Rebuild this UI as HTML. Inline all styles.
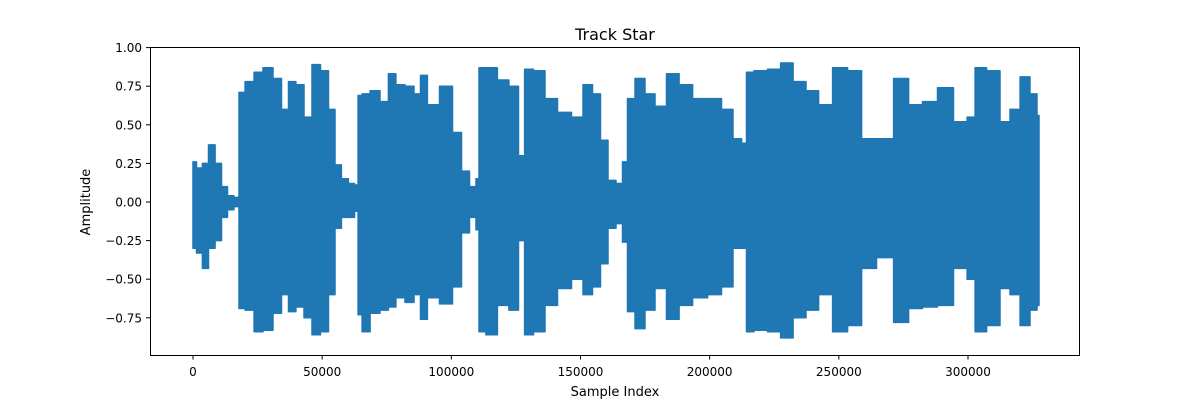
<!DOCTYPE html>
<html><head><meta charset="utf-8"><style>
body{margin:0;background:#fff;}
svg text{font-family:"DejaVu Sans","Liberation Sans",sans-serif;fill:#000;}
</style></head><body>
<svg id="chart" width="1200" height="400" viewBox="0 0 1200 400" xmlns="http://www.w3.org/2000/svg">
<rect width="1200" height="400" fill="#fff"/>
<text x="615" y="40" font-size="16" text-anchor="middle">Track Star</text>
<g id="plot"></g>
<rect x="150.5" y="47.5" width="929" height="308" fill="none" stroke="#000" stroke-width="1"/>
<g id="xticks"></g><g id="yticks"></g>
<text x="615" y="396" font-size="13" text-anchor="middle">Sample Index</text>
<text x="90" y="202" font-size="13" text-anchor="middle" transform="rotate(-90 90 202)">Amplitude</text>
</svg>
<script>
const sampleIdx=[0,2700,4600,7400,9700,12400,14300,17400,18200,22100,25200,29000,32900,35600,38300,41400,44500,47600,51100,53800,56100,58800,61500,63500,64300,66600,70500,74300,77000,80100,84000,87100,89000,92500,98300,102600,105300,108800,110300,111100,115700,120000,124600,127400,129300,134300,138200,144000,149000,152900,156400,159100,162200,165300,167200,169200,173000,176900,180800,185800,190500,196300,202100,207100,211000,213700,214800,219500,225300,229600,235000,239600,244700,250500,256300,261300,267900,274500,279500,285300,291100,297700,301600,303900,310500,314300,318200,322100,325900,327500];
const upperEnv=[0.26,0.22,0.25,0.37,0.25,0.10,0.04,0.03,0.71,0.78,0.84,0.87,0.80,0.60,0.78,0.76,0.55,0.89,0.85,0.60,0.24,0.15,0.12,0.11,0.69,0.70,0.72,0.65,0.83,0.76,0.75,0.70,0.82,0.63,0.75,0.45,0.20,0.10,0.15,0.87,0.87,0.79,0.75,0.30,0.86,0.85,0.67,0.58,0.55,0.76,0.70,0.40,0.14,0.12,0.26,0.67,0.80,0.70,0.62,0.83,0.76,0.67,0.67,0.60,0.41,0.38,0.84,0.85,0.86,0.90,0.78,0.72,0.63,0.87,0.85,0.41,0.41,0.80,0.63,0.65,0.74,0.52,0.55,0.87,0.85,0.52,0.60,0.81,0.70,0.56];
const lowerEnv=[-0.30,-0.33,-0.43,-0.30,-0.25,-0.10,-0.05,-0.03,-0.69,-0.70,-0.84,-0.83,-0.72,-0.60,-0.71,-0.68,-0.75,-0.86,-0.84,-0.60,-0.17,-0.10,-0.10,-0.06,-0.73,-0.84,-0.72,-0.70,-0.68,-0.62,-0.65,-0.60,-0.76,-0.62,-0.66,-0.55,-0.20,-0.10,-0.18,-0.84,-0.86,-0.67,-0.70,-0.25,-0.86,-0.84,-0.67,-0.56,-0.50,-0.60,-0.55,-0.40,-0.17,-0.14,-0.26,-0.71,-0.82,-0.70,-0.56,-0.76,-0.67,-0.62,-0.60,-0.55,-0.30,-0.30,-0.84,-0.83,-0.84,-0.88,-0.75,-0.70,-0.60,-0.84,-0.80,-0.43,-0.36,-0.78,-0.69,-0.68,-0.67,-0.43,-0.50,-0.84,-0.80,-0.56,-0.60,-0.80,-0.70,-0.67];
const xTickVals=[0,50000,100000,150000,200000,250000,300000];
const yTickVals=[-0.75,-0.5,-0.25,0,0.25,0.5,0.75,1.0];
const yTickLabels=["−0.75","−0.50","−0.25","0.00","0.25","0.50","0.75","1.00"];

const NS="http://www.w3.org/2000/svg";
function xPx(s){return 193+s*775/300000;}
function yPx(v){return 202-v*154.4;}

const plot=document.getElementById('plot');
const n=sampleIdx.length;
function edges(i){
  const l=i===0?xPx(sampleIdx[0]):(xPx(sampleIdx[i-1])+xPx(sampleIdx[i]))/2;
  const r=i===n-1?xPx(sampleIdx[n-1]):(xPx(sampleIdx[i])+xPx(sampleIdx[i+1]))/2;
  return [l,r];
}
let pts=[];
for(let i=0;i<n;i++){const [l,r]=edges(i);const y=yPx(upperEnv[i]).toFixed(1);pts.push(l.toFixed(1)+','+y,r.toFixed(1)+','+y);}
for(let i=n-1;i>=0;i--){const [l,r]=edges(i);const y=yPx(lowerEnv[i]).toFixed(1);pts.push(r.toFixed(1)+','+y,l.toFixed(1)+','+y);}
const poly=document.createElementNS(NS,'polygon');


poly.setAttribute('points',pts.join(' '));
poly.setAttribute('fill','#1f77b4');
poly.setAttribute('stroke','#1f77b4');
poly.setAttribute('stroke-width','1.5');
poly.setAttribute('stroke-linejoin','round');
plot.appendChild(poly);

const xg=document.getElementById('xticks');
xTickVals.forEach(v=>{
  const x=xPx(v);
  const l=document.createElementNS(NS,'line');
  
  
  l.setAttribute('x1',x);l.setAttribute('x2',x);l.setAttribute('y1',355.5);l.setAttribute('y2',359.5);
  l.setAttribute('stroke','#000');
  xg.appendChild(l);
  const t=document.createElementNS(NS,'text');
  
  
  t.setAttribute('x',x);t.setAttribute('y',376);t.setAttribute('font-size','12');t.setAttribute('text-anchor','middle');
  t.textContent=String(v);
  xg.appendChild(t);
});
const yg=document.getElementById('yticks');
yTickVals.forEach((v,i)=>{
  const y=yPx(v);
  const l=document.createElementNS(NS,'line');
  
  
  l.setAttribute('x1',146);l.setAttribute('x2',150.5);l.setAttribute('y1',y);l.setAttribute('y2',y);
  l.setAttribute('stroke','#000');
  yg.appendChild(l);
  const t=document.createElementNS(NS,'text');
  
  
  t.setAttribute('x',142);t.setAttribute('y',y+4.5);t.setAttribute('font-size','12');t.setAttribute('text-anchor','end');
  t.textContent=yTickLabels[i];
  yg.appendChild(t);
});
</script>
</body></html>
